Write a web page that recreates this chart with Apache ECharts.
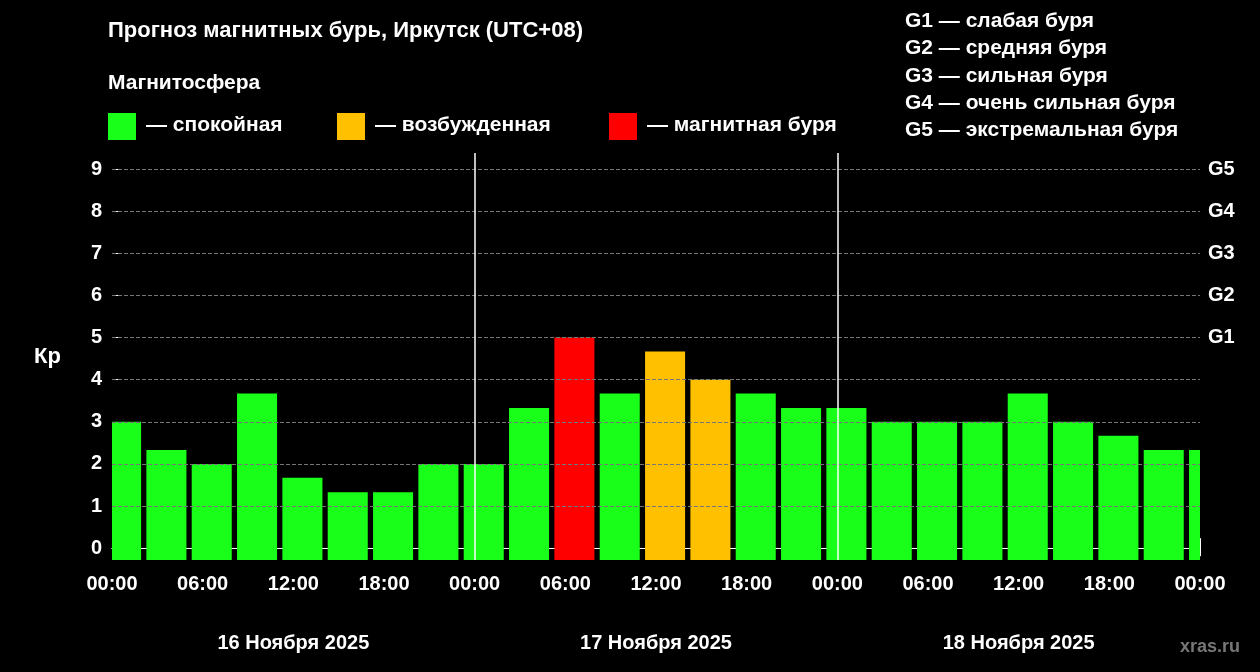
<!DOCTYPE html>
<html><head><meta charset="utf-8">
<script src="https://cdn.jsdelivr.net/npm/echarts@6/dist/echarts.min.js"></script>
<style>html,body{margin:0;background:#000}#c{width:1260px;height:672px}</style>
</head><body><div id="c"></div>
<script>
// Kp по 3-часовым интервалам (центры смещены на 0.6 ч)
const hours = [0.6,3.6,6.6,9.6,12.6,15.6,18.6,21.6,24.6,27.6,30.6,33.6,36.6,39.6,42.6,45.6,48.6,51.6,54.6,57.6,60.6,63.6,66.6,69.6,72.6]
const kp = [3.0,2.33,2.0,3.67,1.67,1.33,1.33,2.0,2.0,3.33,5.0,3.67,4.67,4.0,3.67,3.33,3.33,3.0,3.0,3.0,3.67,3.0,2.67,2.33,2.33]
const days = ['16 Ноября 2025','17 Ноября 2025','18 Ноября 2025']
const gLabels = ['G1','G2','G3','G4','G5']
const gText = ['G1 — слабая буря','G2 — средняя буря','G3 — сильная буря','G4 — очень сильная буря','G5 — экстремальная буря']

const font = 'Liberation Sans, Arial, sans-serif'
const colorOf = v => v >= 5 ? '#ff0000' : (v >= 4 ? '#ffc000' : '#1aff1a')
const yMin = -0.28, yMax = 9.38

const myChart = echarts.init(document.getElementById('c'))
const txt = (x, y, text, size, fill) => ({type:'text', left:x, top:y, style:{text, fill: fill || '#fff', font:`bold ${size}px ${font}`}})
myChart.setOption({
  backgroundColor: '#000',
  textStyle: {fontFamily: font},
  grid: {left: 112, right: 60, top: 153, bottom: 112},
  xAxis: [{
    type: 'value', min: 0, max: 72, interval: 3,
    axisLine: {lineStyle: {color: '#fff'}},
    axisTick: {length: 8, lineStyle: {color: '#fff'}},
    axisLabel: {color: '#fff', fontSize: 20, fontWeight: 'bold', margin: 14,
      formatter: v => v % 6 ? '' : String(v % 24 === 0 ? 0 : v % 24).padStart(2,'0') + ':00'},
    splitLine: {show: false}
  }, {
    type: 'value', min: 0, max: 72, position: 'bottom', offset: 66,
    axisLine: {show: true, lineStyle: {color: '#fff'}},
    axisTick: {show: true, inside: true, length: 10, customValues: [0,24,48,72], lineStyle: {color: '#fff'}},
    axisLabel: {color: '#fff', fontSize: 20, fontWeight: 'bold', margin: 7, customValues: [12,36,60],
      formatter: v => days[Math.floor(v / 24)]},
    splitLine: {show: false}
  }],
  yAxis: [{
    type: 'value', min: yMin, max: yMax,
    axisLine: {show: false}, axisTick: {show: false},
    axisLabel: {color: '#fff', fontSize: 20, fontWeight: 'bold', margin: 10, customValues: [0,1,2,3,4,5,6,7,8,9]},
    splitLine: {show: false}
  }, {
    type: 'value', min: yMin, max: yMax, position: 'right',
    axisLine: {show: false},
    axisTick: {show: true, length: 10, customValues: [0,1,2,3,4,5,6,7,8,9], lineStyle: {color: '#fff'}},
    axisLabel: {color: '#fff', fontSize: 20, fontWeight: 'bold', margin: 8, customValues: [5,6,7,8,9],
      formatter: v => gLabels[v - 5]},
    splitLine: {show: false}
  }],
  series: [{
    type: 'custom',
    clip: true,
    data: hours.map((h, i) => [h, kp[i]]),
    renderItem: (params, api) => {
      const h = api.value(0), v = api.value(1)
      const w = api.size([2.65, 0])[0]
      const top = api.coord([h, v]), bot = api.coord([h, yMin])
      const cs = params.coordSys
      let x0 = top[0] - w / 2, x1 = top[0] + w / 2
      x0 = Math.max(x0, cs.x); x1 = Math.min(x1, cs.x + cs.width)
      return {type: 'rect', shape: {x: x0, y: top[1], width: x1 - x0, height: bot[1] - top[1]},
        style: {fill: colorOf(v)}}
    },
    markLine: {
      silent: true, symbol: 'none', label: {show: false},
      data: [1,2,3,4,5,6,7,8,9].map(y => ({yAxis: y, lineStyle: {color: '#777', type: 'dashed', width: 1}}))
        .concat([24,48].map(x => ({xAxis: x, lineStyle: {color: '#fff', type: 'solid', width: 1.5}})))
    },
    z: 3
  }],
  graphic: [
    txt(108, 20, 'Прогноз магнитных бурь, Иркутск (UTC+08)', 22),
    txt(108, 73, 'Магнитосфера', 21),
    {type:'rect', left:108, top:113, shape:{width:28, height:27}, style:{fill:'#1aff1a'}},
    txt(146, 115, '— спокойная', 21),
    {type:'rect', left:337, top:113, shape:{width:28, height:27}, style:{fill:'#ffc000'}},
    txt(375, 115, '— возбужденная', 21),
    {type:'rect', left:609, top:113, shape:{width:28, height:27}, style:{fill:'#ff0000'}},
    txt(647, 115, '— магнитная буря', 21),
    ...gText.map((t, i) => txt(905, 11 + i * 27.2, t, 21)),
    txt(34, 346, 'Кр', 22),
    txt(1180, 638, 'xras.ru', 18, '#777')
  ]
})
</script></body></html>
